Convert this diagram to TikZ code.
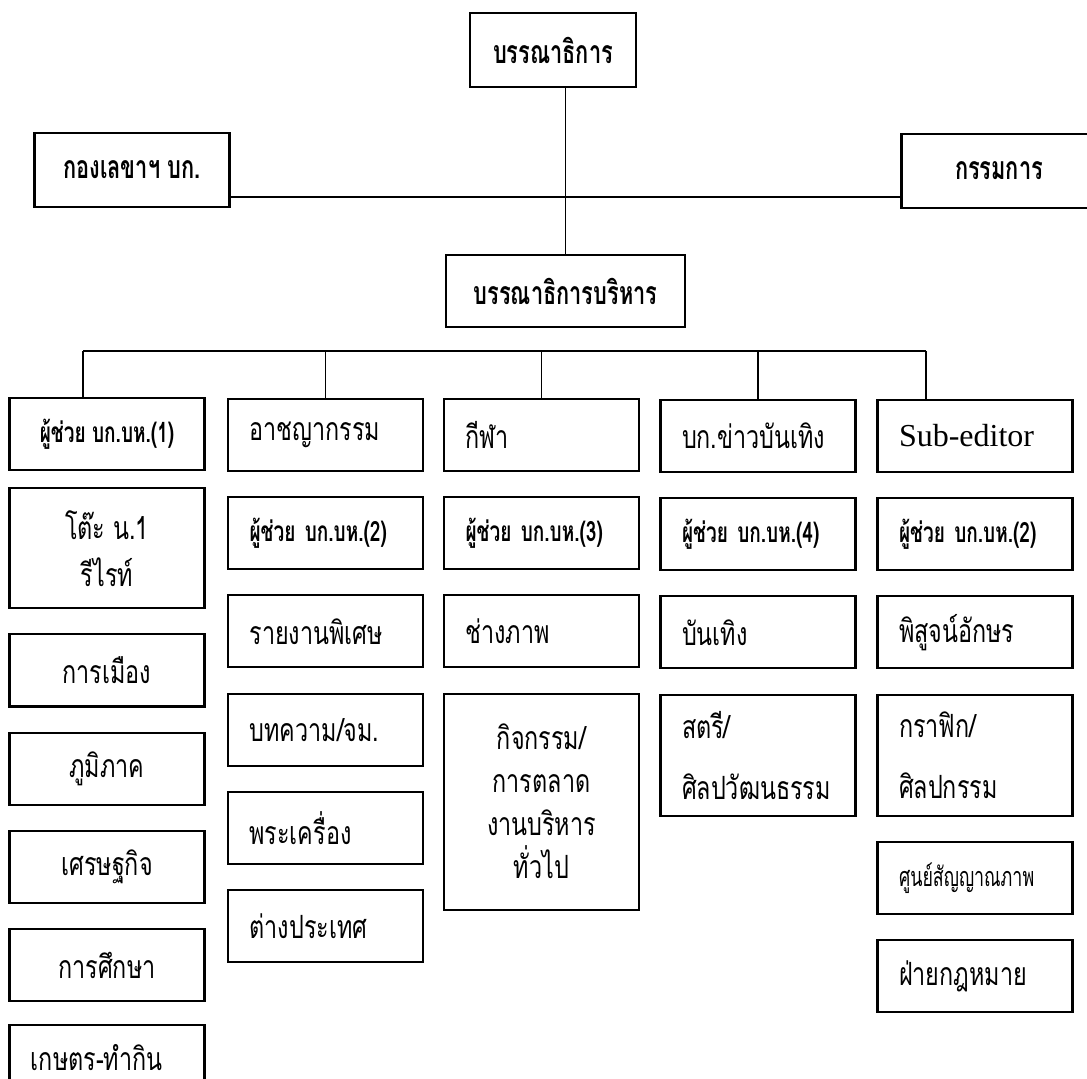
\documentclass[tikz,border=0pt]{standalone}
\usepackage{fontspec}
\setmainfont{Liberation Serif}
\newfontfamily\thai[Script=Thai, FakeStretch=0.73, BoldFeatures={FakeStretch=0.68}]{Loma}
\newfontfamily\thainarrow[Script=Thai, FakeStretch=0.66]{Loma}
\usetikzlibrary{positioning}
\newcommand{\thaitxt}{\thai\fontsize{16}{19}\selectfont}
\tikzset{
  box/.style={draw, line width=1.1pt, minimum width=97.5pt, minimum height=36pt, inner sep=0pt, font=\thaitxt},
  cbox/.style={box, align=center},
  lbox/.style={box, text width=76pt, inner xsep=10.75pt, align=left},
  bold/.style={font=\thaitxt\bfseries},
  asst/.style={font=\thai\bfseries\fontsize{14}{16}\selectfont},
  link/.style={line width=0.8pt},
}

\begin{document}
\begin{tikzpicture}[node distance=12pt, x=0.5pt, y=-0.5pt]
  \useasboundingbox (0,0) rectangle (1087,1079);
  % top of the chart
  \node[cbox, bold, minimum width=83pt, minimum height=37pt] (ed) at (553,50) {บรรณาธิการ};
  \node[cbox, bold, minimum height=37pt] (secr) at (132,170) {กองเลขาฯ บก.};
  \node[cbox, bold, minimum height=37pt] (board) at (999,171) {กรรมการ};
  \node[cbox, bold, minimum width=119.5pt] (exec) at (565.5,291) {บรรณาธิการบริหาร};
  \coordinate (hline) at (0,197);
  \coordinate (busL) at (83,351);
  \coordinate (busR) at (926,351);

  % column 1
  \node[cbox, asst] (a1) at (107,434) {ผู้ช่วย บก.บห.(1)};
  \node[cbox, minimum height=60pt, below=8pt of a1] (b1) {โต๊ะ น.1\\[4.5pt]รีไรท์};
  \node[cbox, below=of b1] (c1) {การเมือง};
  \node[cbox, below=of c1] (d1) {ภูมิภาค};
  \node[cbox, below=of d1] (e1) {เศรษฐกิจ};
  \node[cbox, below=of e1] (f1) {การศึกษา};
  \node[lbox, below=11pt of f1] (g1) {\raisebox{4pt}{เกษตร-ทำกิน}};

  % column 2
  \node[lbox] (a2) at (325.5,435) {อาชญากรรม};
  \node[lbox, asst, below=of a2] (b2) {ผู้ช่วย บก.บห.(2)};
  \node[lbox, below=of b2] (c2) {รายงานพิเศษ};
  \node[lbox, below=of c2] (d2) {บทความ/จม.};
  \node[lbox, below=of d2] (e2) {พระเครื่อง};
  \node[lbox, below=of e2] (f2) {ต่างประเทศ};

  % column 3
  \node[lbox] (a3) at (541.5,435) {กีฬา};
  \node[lbox, asst, below=of a3] (b3) {ผู้ช่วย บก.บห.(3)};
  \node[lbox, below=of b3] (c3) {ช่างภาพ};
  \node[cbox, minimum height=108pt, below=of c3] (d3) {กิจกรรม/\\[2.5pt]การตลาด\\[2.5pt]งานบริหาร\\[2.5pt]ทั่วไป};

  % column 4
  \node[lbox] (a4) at (758,436) {บก.ข่าวบันเทิง};
  \node[lbox, asst, below=of a4] (b4) {ผู้ช่วย บก.บห.(4)};
  \node[lbox, below=of b4] (c4) {บันเทิง};
  \node[lbox, minimum height=60.5pt, below=of c4] (d4) {สตรี/\\[11.5pt]ศิลปวัฒนธรรม};

  % column 5
  \node[lbox, font=\fontsize{16}{19}\selectfont] (a5) at (975,436) {Sub-editor};
  \node[lbox, asst, below=of a5] (b5) {ผู้ช่วย บก.บห.(2)};
  \node[lbox, below=of b5] (c5) {พิสูจน์อักษร};
  \node[lbox, minimum height=60.5pt, below=of c5] (d5) {กราฟิก/\\[11.5pt]ศิลปกรรม};
  \node[lbox, font=\thainarrow\fontsize{13.5}{16}\selectfont, below=of d5] (e5) {ศูนย์สัญญาณภาพ};
  \node[lbox, below=of e5] (f5) {ฝ่ายกฎหมาย};

  % connectors
  \draw[link] (ed.south -| exec.north) -- (exec.north);
  \draw[link] (secr.east |- hline) -- (board.west |- hline);
  \draw[link] (busL) -- (busR);
  \draw[link] (busL) -- (busL |- a1.north);
  \draw[link] (busL -| a2.north) -- (a2.north);
  \draw[link] (busL -| a3.north) -- (a3.north);
  \draw[link] (busL -| a4.north) -- (a4.north);
  \draw[link] (busR) -- (busR |- a5.north);
\end{tikzpicture}
\end{document}
